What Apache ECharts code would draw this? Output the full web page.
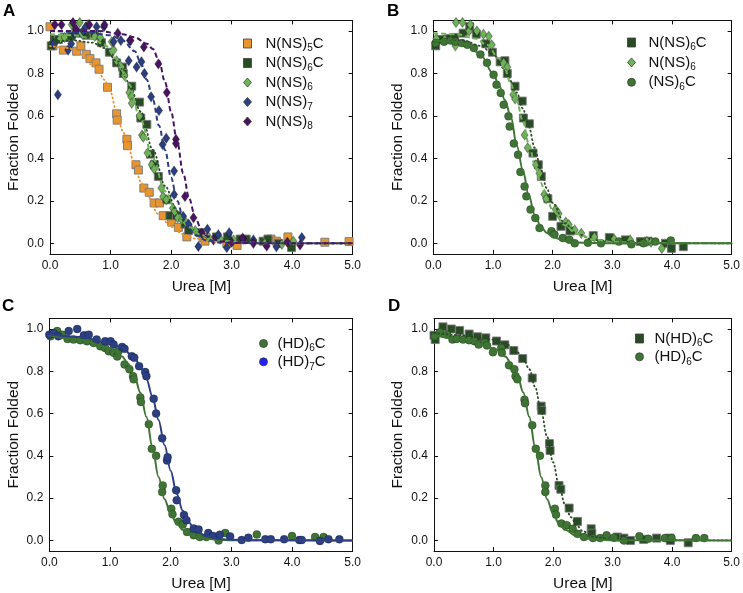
<!DOCTYPE html>
<html><head><meta charset="utf-8">
<script src="https://cdn.jsdelivr.net/npm/echarts@6/dist/echarts.min.js"></script>
<style>html,body{margin:0;padding:0;background:#fff}#c{width:743px;height:593px}</style>
</head><body><div id="c"></div><script>
// ---------- Panel A ----------
const A_NNS5C = [[0.0,1.02],[0.05,0.93],[0.22,0.91],[0.44,0.905],[0.51,0.93],[0.6,0.89],[0.66,0.87],[0.76,0.85],[0.81,0.82],[0.95,0.735],[1.1,0.61],[1.11,0.58],[1.27,0.49],[1.28,0.46],[1.42,0.37],[1.46,0.345],[1.55,0.26],[1.64,0.24],[1.72,0.19],[1.81,0.19],[1.87,0.13],[2.01,0.10],[2.12,0.075],[2.26,0.03],[2.53,0.026],[2.56,0.01],[2.92,0.0],[3.09,-0.01],[3.65,0.02],[3.74,0.01],[3.93,0.03],[4.54,0.005],[4.94,0.008]];
const A_NNS6C = [[0.02,0.93],[0.08,0.96],[0.14,0.96],[0.25,0.97],[0.35,0.975],[0.47,0.99],[0.6,0.98],[0.73,0.98],[0.85,0.945],[0.98,0.90],[1.1,0.85],[1.2,0.83],[1.21,0.80],[1.35,0.74],[1.48,0.665],[1.5,0.59],[1.6,0.56],[1.66,0.42],[1.72,0.37],[1.79,0.315],[1.93,0.205],[1.98,0.13],[2.09,0.13],[2.23,0.09],[2.29,0.06],[2.48,0.05],[2.75,0.03],[2.93,0.03],[3.14,0.02],[3.24,0.02],[3.52,0.01],[3.6,0.02],[3.77,0.0],[3.99,-0.02]];
const A_NNS6 = [[0.07,0.94],[0.17,0.965],[0.24,0.97],[0.36,1.03],[0.41,1.0],[0.49,1.04],[0.52,0.99],[0.63,1.03],[0.74,0.975],[0.83,0.97],[1.02,0.95],[1.05,0.91],[1.1,0.86],[1.18,0.83],[1.23,0.79],[1.31,0.71],[1.34,0.69],[1.35,0.66],[1.48,0.6],[1.52,0.51],[1.54,0.5],[1.61,0.425],[1.68,0.37],[1.72,0.35],[1.84,0.26],[1.87,0.22],[1.92,0.205],[2.03,0.165],[2.06,0.15],[2.11,0.12],[2.18,0.11],[2.24,0.10],[2.29,0.085],[2.4,0.06],[2.62,0.03],[2.81,0.02],[3.03,0.016],[3.36,0.01],[3.55,0.0],[3.83,-0.005],[4.02,0.01]];
const A_NNS7 = [[0.06,0.94],[0.13,0.70],[0.3,0.91],[0.35,0.94],[0.41,0.99],[0.55,1.0],[0.59,1.02],[0.77,1.02],[0.89,1.02],[1.05,0.95],[1.17,0.955],[1.3,0.86],[1.32,0.955],[1.43,0.83],[1.51,0.855],[1.56,0.80],[1.67,0.69],[1.8,0.625],[1.86,0.465],[1.92,0.495],[2.05,0.34],[2.05,0.23],[2.2,0.127],[2.29,0.09],[2.45,-0.015],[2.6,0.066],[2.78,0.04],[2.92,-0.02],[2.96,0.05],[3.19,0.02],[3.36,0.016],[3.74,-0.016],[4.16,0.027]];
const A_NNS8 = [[0.08,1.03],[0.19,1.03],[0.38,1.04],[0.43,1.01],[0.65,1.03],[0.9,1.03],[1.12,0.99],[1.33,0.955],[1.55,0.925],[1.79,0.845],[1.93,0.71],[2.08,0.49],[2.08,0.47],[2.23,0.22],[2.37,0.12],[2.51,0.047],[2.7,0.016],[3.0,0.005],[3.18,0.024],[3.36,0.0],[3.58,-0.013],[3.92,0.005],[4.13,-0.008]];
const A_FIT_NNS5C = [[0,0.93],[0.3,0.92],[0.5,0.89],[0.7,0.84],[0.8,0.81],[0.9,0.77],[1.0,0.71],[1.1,0.62],[1.2,0.53],[1.3,0.445],[1.4,0.365],[1.5,0.29],[1.6,0.225],[1.8,0.135],[2.0,0.078],[2.2,0.042],[2.4,0.022],[2.7,0.008],[3.0,0.003],[3.5,0],[5,0]];
const A_FIT_NNS6C = [[0,0.95],[0.4,0.955],[0.7,0.945],[0.9,0.92],[1.1,0.86],[1.3,0.76],[1.5,0.62],[1.7,0.44],[1.9,0.27],[2.1,0.15],[2.3,0.075],[2.5,0.035],[2.8,0.012],[3.2,0.003],[4,0],[5,0]];
const A_FIT_NNS6 = [[0,0.985],[0.4,0.98],[0.7,0.965],[0.9,0.935],[1.1,0.87],[1.3,0.75],[1.5,0.58],[1.7,0.40],[1.9,0.245],[2.1,0.14],[2.3,0.075],[2.5,0.038],[2.8,0.013],[3.2,0.003],[4,0],[5,0]];
const A_FIT_NNS7 = [[0,1.0],[0.6,0.995],[1.0,0.98],[1.2,0.955],[1.4,0.905],[1.5,0.85],[1.6,0.77],[1.7,0.675],[1.8,0.555],[1.9,0.44],[2.0,0.31],[2.1,0.20],[2.2,0.12],[2.3,0.068],[2.4,0.038],[2.6,0.012],[2.8,0.004],[3.0,0.001],[3.5,0],[5,0]];
const A_FIT_NNS8 = [[0,1.0],[0.8,1.0],[1.2,0.985],[1.4,0.97],[1.6,0.94],[1.7,0.915],[1.8,0.86],[1.9,0.76],[2.0,0.62],[2.1,0.48],[2.2,0.33],[2.3,0.21],[2.4,0.12],[2.5,0.065],[2.6,0.033],[2.8,0.01],[3.0,0.003],[3.5,0],[5,0]];
// ---------- Panel B ----------
const B_NNS6C = [[0.04,0.93],[0.14,0.96],[0.28,0.965],[0.36,0.97],[0.5,0.99],[0.61,1.02],[0.72,0.985],[0.88,0.94],[0.99,0.90],[1.12,0.855],[1.2,0.86],[1.24,0.80],[1.37,0.74],[1.49,0.67],[1.51,0.59],[1.61,0.563],[1.67,0.425],[1.76,0.37],[1.81,0.315],[1.92,0.21],[2.0,0.127],[2.14,0.08],[2.29,0.058],[2.68,0.036],[2.95,0.027],[3.22,0.016],[3.47,0.008],[3.6,0.01],[3.89,0.0],[3.99,-0.024],[4.19,-0.016]];
const B_NNS6 = [[0.05,0.965],[0.19,0.96],[0.37,0.93],[0.38,1.04],[0.49,1.04],[0.6,1.0],[0.62,1.03],[0.73,1.0],[0.84,0.985],[0.93,0.975],[0.98,0.935],[1.18,0.85],[1.24,0.83],[1.34,0.70],[1.37,0.68],[1.53,0.51],[1.58,0.45],[1.72,0.37],[1.78,0.33],[1.86,0.23],[1.89,0.21],[2.05,0.16],[2.1,0.14],[2.22,0.10],[2.27,0.088],[2.37,0.063],[2.48,0.047],[2.7,0.03],[3.03,0.02],[3.3,0.015],[3.58,0.008],[3.65,0.005],[3.83,-0.024]];
const B_NS6C = [[0.04,0.943],[0.18,0.95],[0.29,0.955],[0.37,0.95],[0.48,0.943],[0.57,0.935],[0.68,0.92],[0.79,0.889],[0.9,0.85],[1.01,0.794],[1.06,0.747],[1.13,0.708],[1.18,0.653],[1.26,0.598],[1.28,0.55],[1.35,0.47],[1.42,0.417],[1.46,0.336],[1.53,0.268],[1.56,0.221],[1.63,0.159],[1.71,0.119],[1.78,0.072],[1.98,0.057],[2.03,0.041],[2.17,0.025],[2.28,0.017],[2.37,0.0],[2.59,0.003],[2.81,0.0],[3.11,0.008],[3.32,-0.005],[3.52,0.0],[3.72,0.008],[3.98,0.013]];
const B_FIT_NS6C = [[0,0.955],[0.4,0.95],[0.6,0.93],[0.8,0.885],[1.0,0.80],[1.1,0.745],[1.2,0.675],[1.3,0.595],[1.4,0.46],[1.5,0.345],[1.6,0.225],[1.7,0.135],[1.8,0.08],[1.9,0.05],[2.0,0.03],[2.2,0.011],[2.5,0.003],[3.0,0],[5,0]];
const B_FIT_NNS6 = [[0,0.99],[0.4,0.985],[0.7,0.965],[0.9,0.935],[1.1,0.87],[1.2,0.82],[1.3,0.75],[1.4,0.67],[1.5,0.575],[1.6,0.47],[1.7,0.37],[1.8,0.285],[1.9,0.21],[2.0,0.155],[2.2,0.085],[2.4,0.045],[2.7,0.017],[3.0,0.006],[3.5,0.001],[5,0]];
const B_FIT_NNS6C = [[0,0.95],[0.5,0.955],[0.8,0.93],[1.0,0.89],[1.2,0.82],[1.4,0.71],[1.5,0.635],[1.6,0.55],[1.7,0.45],[1.8,0.35],[1.9,0.26],[2.0,0.19],[2.2,0.095],[2.4,0.045],[2.7,0.015],[3.0,0.005],[3.5,0.001],[5,0]];
// ---------- Panel C ----------
const C_HD6C = [[0.02,0.965],[0.13,0.99],[0.21,0.973],[0.3,0.953],[0.4,0.95],[0.51,0.947],[0.62,0.942],[0.73,0.934],[0.84,0.918],[0.92,0.91],[0.98,0.895],[1.06,0.887],[1.12,0.87],[1.14,0.895],[1.24,0.832],[1.32,0.81],[1.38,0.777],[1.39,0.762],[1.5,0.676],[1.51,0.655],[1.64,0.55],[1.69,0.433],[1.76,0.40],[1.86,0.229],[1.87,0.26],[2.01,0.15],[2.03,0.124],[2.13,0.088],[2.2,0.075],[2.27,0.04],[2.38,0.025],[2.48,0.016],[2.59,0.016],[2.79,0.0],[2.9,0.035],[3.42,0.028],[4.0,0.021],[4.38,0.016],[4.52,0.016]];
const C_HD7C = [[0.0,0.973],[0.07,0.98],[0.15,0.965],[0.32,0.99],[0.46,1.0],[0.57,0.97],[0.65,0.973],[0.78,0.95],[0.92,0.942],[1.01,0.942],[1.06,0.926],[1.2,0.915],[1.24,0.906],[1.36,0.871],[1.4,0.864],[1.48,0.824],[1.58,0.796],[1.6,0.777],[1.72,0.67],[1.76,0.60],[1.86,0.483],[1.94,0.378],[1.95,0.393],[2.09,0.237],[2.1,0.19],[2.22,0.12],[2.26,0.096],[2.38,0.056],[2.46,0.052],[2.62,0.035],[2.7,0.021],[2.81,0.027],[2.98,0.019],[3.17,0.002],[3.28,0.013],[3.56,0.006],[3.65,0.006],[3.87,0.006],[4.12,0.002],[4.16,0.002],[4.46,-0.003],[4.6,0.006],[4.78,0.005]];
const C_FIT_HD7C = [[0,0.975],[0.5,0.962],[1.0,0.935],[1.2,0.91],[1.4,0.865],[1.5,0.825],[1.6,0.765],[1.7,0.68],[1.8,0.57],[1.9,0.45],[2.0,0.33],[2.1,0.22],[2.2,0.14],[2.3,0.085],[2.4,0.05],[2.6,0.018],[2.8,0.007],[3.0,0.003],[3.5,0.001],[5,0]];
const C_FIT_HD6C = [[0,0.97],[0.5,0.95],[1.0,0.91],[1.2,0.87],[1.3,0.835],[1.4,0.78],[1.5,0.70],[1.6,0.585],[1.7,0.44],[1.8,0.30],[1.9,0.195],[2.0,0.125],[2.1,0.08],[2.2,0.05],[2.4,0.02],[2.6,0.008],[2.8,0.003],[3.0,0.001],[5,0]];
// ---------- Panel D ----------
const D_NHD6C = [[0.0,0.97],[0.02,0.95],[0.15,1.01],[0.29,1.0],[0.43,0.993],[0.59,0.976],[0.73,0.963],[0.87,0.958],[1.05,0.943],[1.19,0.925],[1.34,0.898],[1.49,0.86],[1.65,0.768],[1.8,0.635],[1.81,0.615],[1.94,0.458],[1.95,0.425],[2.1,0.26],[2.13,0.242],[2.27,0.153],[2.41,0.09],[2.64,0.055],[2.65,0.034],[3.08,0.016],[3.19,0.011],[3.3,0.0],[3.52,0.005],[3.74,0.011],[3.96,0.011],[3.97,0.0],[4.27,-0.011]];
const D_HD6C = [[0.01,0.966],[0.1,0.984],[0.22,0.973],[0.31,0.95],[0.38,0.953],[0.49,0.95],[0.59,0.947],[0.68,0.942],[0.75,0.926],[0.85,0.937],[0.89,0.922],[0.99,0.89],[1.13,0.91],[1.14,0.887],[1.26,0.828],[1.35,0.809],[1.37,0.777],[1.4,0.762],[1.52,0.665],[1.53,0.649],[1.65,0.545],[1.71,0.433],[1.78,0.401],[1.87,0.26],[1.87,0.229],[2.03,0.15],[2.05,0.122],[2.14,0.08],[2.23,0.072],[2.33,0.055],[2.41,0.031],[2.52,0.016],[2.67,0.011],[2.79,0.011],[2.9,0.024],[3.02,0.013],[3.19,0.0],[3.45,0.02],[3.6,0.008],[3.88,0.011],[3.99,0.011],[4.4,0.011],[4.54,0.011]];
const D_FIT_NHD6C = [[0,0.98],[0.5,0.97],[1.0,0.95],[1.2,0.93],[1.4,0.89],[1.5,0.86],[1.6,0.81],[1.7,0.725],[1.8,0.61],[1.9,0.49],[2.0,0.37],[2.1,0.26],[2.2,0.17],[2.3,0.11],[2.4,0.07],[2.5,0.043],[2.7,0.016],[3.0,0.004],[3.5,0.001],[5,0]];
const D_FIT_HD6C = [[0,0.97],[0.5,0.95],[1.0,0.91],[1.2,0.87],[1.3,0.835],[1.4,0.78],[1.5,0.70],[1.6,0.585],[1.7,0.44],[1.8,0.30],[1.9,0.195],[2.0,0.125],[2.1,0.08],[2.2,0.05],[2.4,0.02],[2.6,0.008],[2.8,0.003],[3.0,0.001],[5,0]];
// ---------- axis ticks / labels ----------
const X_MIN = 0, X_MAX = 5, X_STEP = 1;
const Y_MIN = -0.05, Y_MAX = 1.05;
const Y_TICKS = [0, 0.2, 0.4, 0.6, 0.8, 1.0];
const PANEL_LETTERS = ['A', 'B', 'C', 'D'];

const FONT = 'Liberation Sans, Arial, Helvetica, sans-serif';
const C = {
  orange: '#e9952f', dkgreen: '#284b25', ltgreen: '#70b25a', navy: '#2b3f82',
  purple: '#4a1462', green: '#3f7534', blue: '#1f1fff'
};
const grids = [
  {left: 50, top: 20.4, width: 302.7, height: 233.5},
  {left: 433.3, top: 20.4, width: 302.7, height: 233.5},
  {left: 49.3, top: 318.4, width: 303.4, height: 233.6},
  {left: 434, top: 318.4, width: 302, height: 233.6}
];
const xAxis = [], yAxis = [];
grids.forEach((g, i) => {
  const line = {show: true, onZero: false, lineStyle: {color: '#111', width: 1}};
  const tick = {show: true, inside: true, length: 4, lineStyle: {color: '#111', width: 1}};
  xAxis.push({gridIndex: i, type: 'value', min: X_MIN, max: X_MAX, interval: X_STEP, position: 'bottom',
    axisLine: line, axisTick: tick, splitLine: {show: false},
    axisLabel: {formatter: v => v.toFixed(1), fontSize: 12, color: '#111', margin: 6, fontFamily: FONT},
    name: 'Urea [M]', nameLocation: 'middle', nameGap: 25,
    nameTextStyle: {fontSize: 15.5, color: '#111', fontFamily: FONT}});
  xAxis.push({gridIndex: i, type: 'value', min: X_MIN, max: X_MAX, interval: X_STEP, position: 'top',
    axisLine: line, axisTick: tick, splitLine: {show: false}, axisLabel: {show: false}});
  yAxis.push({gridIndex: i, type: 'value', min: Y_MIN, max: Y_MAX, position: 'left',
    axisLine: line, axisTick: Object.assign({customValues: Y_TICKS}, tick), splitLine: {show: false},
    axisLabel: {customValues: Y_TICKS, formatter: v => v.toFixed(1), fontSize: 12, color: '#111', margin: 6, fontFamily: FONT},
    name: 'Fraction Folded', nameLocation: 'middle', nameGap: 28,
    nameTextStyle: {fontSize: 15.5, color: '#111', fontFamily: FONT}});
  yAxis.push({gridIndex: i, type: 'value', min: Y_MIN, max: Y_MAX, position: 'right',
    axisLine: line, axisTick: Object.assign({customValues: Y_TICKS}, tick), splitLine: {show: false},
    axisLabel: {show: false}});
});

const SHAPES = {
  square: {symbol: 'rect', size: 8, border: 'rgba(120,120,120,0.9)'},
  diamond: {symbol: 'diamond', size: [7, 10], border: 'rgba(0,0,0,0.35)'},
  circle: {symbol: 'circle', size: 8, border: 'rgba(0,0,0,0.25)'}
};
function scatter(name, data, g, shape, color) {
  const s = SHAPES[shape];
  return {type: 'scatter', name, data, xAxisIndex: 2 * g, yAxisIndex: 2 * g, symbol: s.symbol,
    symbolSize: s.size, itemStyle: {color, borderColor: s.border, borderWidth: 1, opacity: 1}, z: 2, silent: true};
}
function fit(data, g, color, kind) {
  const ls = {color, width: 2};
  if (kind === 'dash') { ls.type = [5, 3]; ls.width = 2; }
  else if (kind === 'dot') { ls.type = [1, 3.2]; ls.width = 1.8; ls.cap = 'round'; }
  else { ls.width = 2; }
  return {type: 'line', data, xAxisIndex: 2 * g, yAxisIndex: 2 * g, showSymbol: false, symbol: 'none',
    smooth: 0.35, smoothMonotone: 'x', lineStyle: ls, z: 3, silent: true};
}
const series = [
  scatter('N(NS)5C', A_NNS5C, 0, 'square', C.orange),
  scatter('N(NS)6C', A_NNS6C, 0, 'square', C.dkgreen),
  scatter('N(NS)6', A_NNS6, 0, 'diamond', C.ltgreen),
  scatter('N(NS)7', A_NNS7, 0, 'diamond', C.navy),
  scatter('N(NS)8', A_NNS8, 0, 'diamond', C.purple),
  fit(A_FIT_NNS5C, 0, C.orange, 'dot'),
  fit(A_FIT_NNS6C, 0, C.dkgreen, 'dot'),
  fit(A_FIT_NNS6, 0, C.ltgreen, 'dash'),
  fit(A_FIT_NNS7, 0, C.navy, 'dash'),
  fit(A_FIT_NNS8, 0, C.purple, 'dash'),
  scatter('N(NS)6C', B_NNS6C, 1, 'square', C.dkgreen),
  scatter('N(NS)6', B_NNS6, 1, 'diamond', C.ltgreen),
  scatter('(NS)6C', B_NS6C, 1, 'circle', C.green),
  fit(B_FIT_NNS6C, 1, C.dkgreen, 'dot'),
  fit(B_FIT_NNS6, 1, C.ltgreen, 'dash'),
  fit(B_FIT_NS6C, 1, C.green, 'solid'),
  scatter('(HD)6C', C_HD6C, 2, 'circle', C.green),
  scatter('(HD)7C', C_HD7C, 2, 'circle', C.navy),
  fit(C_FIT_HD6C, 2, C.green, 'solid'),
  fit(C_FIT_HD7C, 2, C.navy, 'solid'),
  scatter('N(HD)6C', D_NHD6C, 3, 'square', C.dkgreen),
  scatter('(HD)6C', D_HD6C, 3, 'circle', C.green),
  fit(D_FIT_NHD6C, 3, C.dkgreen, 'dot'),
  fit(D_FIT_HD6C, 3, C.green, 'solid')
];

const RICH = {
  a: {fontSize: 15, lineHeight: 20, fontFamily: FONT, color: '#111'},
  s: {fontSize: 10, lineHeight: 8, verticalAlign: 'bottom', fontFamily: FONT, color: '#111'}
};
const LABELS = {
  'N(NS)5C': '{a|N(NS)}{s|5}{a|C}', 'N(NS)6C': '{a|N(NS)}{s|6}{a|C}', 'N(NS)6': '{a|N(NS)}{s|6}',
  'N(NS)7': '{a|N(NS)}{s|7}', 'N(NS)8': '{a|N(NS)}{s|8}', '(NS)6C': '{a|(NS)}{s|6}{a|C}',
  '(HD)6C': '{a|(HD)}{s|6}{a|C}', '(HD)7C': '{a|(HD)}{s|7}{a|C}', 'N(HD)6C': '{a|N(HD)}{s|6}{a|C}'
};
const ICON = {square: 'rect', diamond: 'diamond', circle: 'circle'};
function legend(items, left, top, gap, padLeft) {
  return {orient: 'vertical', left, top, itemGap: gap, itemWidth: 8, itemHeight: 9, padding: 0,
    selectedMode: false, formatter: n => LABELS[n],
    textStyle: {rich: RICH, padding: [0, 0, 0, padLeft]},
    data: items.map(([n, shape, color, border]) => ({name: n, icon: ICON[shape],
      itemStyle: {color, borderColor: border || 'rgba(60,60,60,0.8)', borderWidth: 1}}))};
}
const legends = [
  legend([['N(NS)5C', 'square', C.orange], ['N(NS)6C', 'square', C.dkgreen], ['N(NS)6', 'diamond', C.ltgreen],
          ['N(NS)7', 'diamond', C.navy], ['N(NS)8', 'diamond', C.purple]], 243, 36, 2, 9),
  legend([['N(NS)6C', 'square', C.dkgreen], ['N(NS)6', 'diamond', C.ltgreen], ['(NS)6C', 'circle', C.green]], 627, 35, 2.4, 8),
  legend([['(HD)6C', 'circle', C.green], ['(HD)7C', 'circle', C.blue]], 259, 336, 0.8, 5),
  legend([['N(HD)6C', 'square', C.dkgreen], ['(HD)6C', 'circle', C.green]], 635, 331, 0.8, 6)
];
const letterPos = [[3, 3], [387, 3], [2, 298], [388, 298]];
const graphic = PANEL_LETTERS.map((t, i) => ({type: 'text', left: letterPos[i][0], top: letterPos[i][1],
  style: {text: t, font: 'bold 17px ' + FONT, fill: '#000'}}));

const chart = echarts.init(document.getElementById('c'), null, {renderer: 'canvas'});
chart.setOption({animation: false, backgroundColor: '#fff', grid: grids, xAxis, yAxis, series, legend: legends, graphic});
</script></body></html>
